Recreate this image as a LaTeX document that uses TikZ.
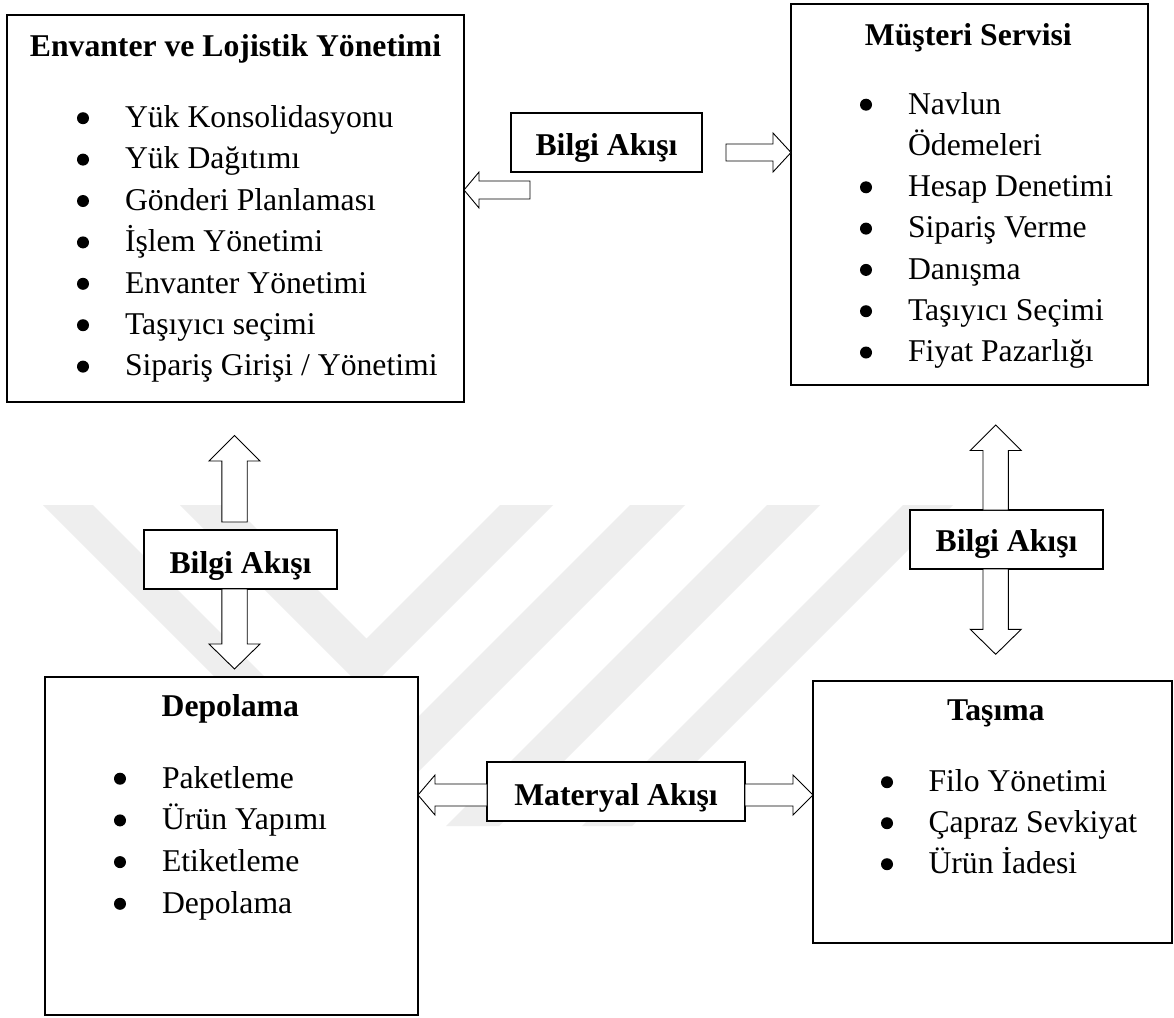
\documentclass[tikz,border=0pt]{standalone}
\usepackage{fontspec}
\setmainfont{Liberation Serif}
\usetikzlibrary{calc}
\definecolor{wm}{RGB}{238,238,238}
% hollow block arrow: tail, tip, shaft half width, head half width, head length
\newcommand\blockarrow[5]{%
  \coordinate (hb) at ($(#2)!#5!(#1)$);
  \draw[flow] ($(#1)!#3!90:(#2)$) -- ($(hb)!#3!-90:(#1)$) -- ($(hb)!#4!-90:(#1)$)
    -- (#2) -- ($(hb)!#4!90:(#1)$) -- ($(hb)!#3!90:(#1)$) -- ($(#1)!#3!-90:(#2)$) -- cycle;}
\begin{document}
\begin{tikzpicture}[x=1pt,y=-1pt,
  every node/.style={inner sep=0pt, outer sep=0pt, font=\fontsize{31.7pt}{38pt}\selectfont},
  box/.style={draw, line width=2pt, fill=white, anchor=north west},
  label/.style={box, font=\fontsize{31.7pt}{38pt}\selectfont\bfseries, align=center},
  title/.style={anchor=base, font=\fontsize{31.7pt}{38pt}\selectfont\bfseries},
  item/.style={anchor=base west},
  dot/.style={fill=black},
  flow/.style={draw, line width=0.9pt, fill=white, line join=miter}]
\useasboundingbox (0,0) rectangle (1174,1017);
\fill[white] (0,0) rectangle (1174,1017);

% faint background emblem
\fill[wm] (43,505) -- (93,505) -- (361.5,773.5) -- (630,505) -- (685,505) -- (364,826) -- cycle;
\fill[wm] (180,505) -- (233,505) -- (366.5,638.5) -- (500,505) -- (553,505) -- (366.5,691.5) -- cycle;
\fill[wm] (767,505) -- (820,505) -- (499,826) -- (446,826) -- cycle;
\fill[wm] (903,505) -- (953,505) -- (632,826) -- (582,826) -- cycle;

% main blocks
\node[box, minimum width=457pt, minimum height=387pt] (env) at (7,15) {};
\node[box, minimum width=357pt, minimum height=381pt] (mus) at (791,4) {};
\node[box, minimum width=373pt, minimum height=338pt] (dep) at (45,677) {};
\node[box, minimum width=359pt, minimum height=262pt] (tas) at (813,681) {};

% block titles
\node[title] (envT) at (235.5,56.7) {Envanter ve Lojistik Yönetimi};
\node[title] (musT) at (968.3,45) {Müşteri Servisi};
\node[title] (depT) at (230.3,716.7) {Depolama};
\node[title] (tasT) at (995.8,720) {Taşıma};

% block contents
\foreach \t [count=\i] in {Yük Konsolidasyonu, Yük Dağıtımı, Gönderi Planlaması,
    İşlem Yönetimi, Envanter Yönetimi, Taşıyıcı seçimi, Sipariş Girişi / Yönetimi}{
  \node[item] (envI\i) at (125,{127.5+41.4*(\i-1)}) {\t};
  \fill[dot] (83,{118.2+41.4*(\i-1)}) circle[radius=6pt];}
\foreach \t [count=\i] in {Navlun, Ödemeleri, Hesap Denetimi, Sipariş Verme,
    Danışma, Taşıyıcı Seçimi, Fiyat Pazarlığı}
  \node[item] (musI\i) at (908,{114+41.3*(\i-1)}) {\t};
\foreach \i in {1,3,4,5,6,7}
  \fill[dot] (866,{104.7+41.3*(\i-1)}) circle[radius=6pt];
\foreach \t [count=\i] in {Paketleme, Ürün Yapımı, Etiketleme, Depolama}{
  \node[item] (depI\i) at (162,{788+41.7*(\i-1)}) {\t};
  \fill[dot] (120,{778.7+41.7*(\i-1)}) circle[radius=6pt];}
\foreach \t [count=\i] in {Filo Yönetimi, Çapraz Sevkiyat, Ürün İadesi}{
  \node[item] (tasI\i) at (928.5,{791.5+41*(\i-1)}) {\t};
  \fill[dot] (887,{782.2+41*(\i-1)}) circle[radius=6pt];}

% flow labels
\node[label, minimum width=191pt, text height=42pt, text depth=17pt] (bilgiM) at (511,113) {Bilgi Akışı};
\node[label, minimum width=193pt, text height=43pt, text depth=16pt] (bilgiL) at (144,530) {Bilgi Akışı};
\node[label, minimum width=193pt, text height=41.7pt, text depth=17.3pt] (bilgiR) at (910,510) {Bilgi Akışı};
\node[label, minimum width=258pt, text height=43pt, text depth=16pt] (mat) at (487,762) {Materyal Akışı};

% arrow end points
\coordinate (m1) at (726,152.5);
\coordinate (m1e) at (mus.west |- m1);
\coordinate (m2) at (530,190);
\coordinate (m2e) at (env.east |- m2);
\coordinate (l1) at (234.5,522);
\coordinate (l1e) at (234.5,435.5);
\coordinate (l2) at (l1 |- bilgiL.south);
\coordinate (l2e) at (234.5,669);
\coordinate (r1) at (995.7,510);
\coordinate (r1e) at (995.7,425);
\coordinate (r2) at (r1 |- bilgiR.south);
\coordinate (r2e) at (995.7,654.3);
\coordinate (b1) at (mat.west |- 0,795);
\coordinate (b1e) at (dep.east |- b1);
\coordinate (b2) at (mat.east |- b1);
\coordinate (b2e) at (tas.west |- b1);

% information and material flows
\blockarrow{m1}{m1e}{8.5pt}{19.5pt}{18pt}
\blockarrow{m2}{m2e}{9pt}{18pt}{15pt}
\blockarrow{l1}{l1e}{12.7pt}{25.5pt}{25.5pt}
\blockarrow{l2}{l2e}{12.7pt}{25.5pt}{25pt}
\blockarrow{r1}{r1e}{12.7pt}{25.5pt}{25.5pt}
\blockarrow{r2}{r2e}{12.7pt}{25.5pt}{25pt}
\blockarrow{b1}{b1e}{11pt}{20pt}{17pt}
\blockarrow{b2}{b2e}{11pt}{20pt}{20pt}
\end{tikzpicture}
\end{document}
